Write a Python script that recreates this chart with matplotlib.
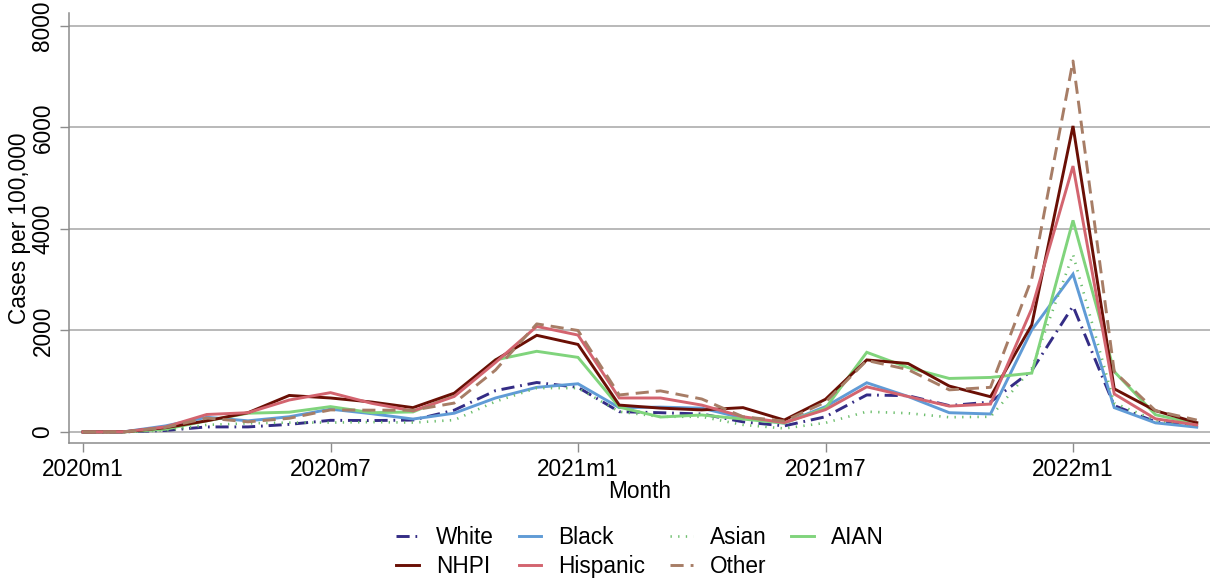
import matplotlib
matplotlib.use("Agg")
import matplotlib.pyplot as plt

plt.rcParams['font.family'] = ['Liberation Sans', 'DejaVu Sans']

months = [f"{y}m{m}" for y in (2020, 2021, 2022) for m in range(1, 13)][:28]
tick_labels = ["2020m1", "2020m7", "2021m1", "2021m7", "2022m1"]

white    = [0, 2, 30, 100, 100, 150, 230, 225, 235, 430, 815, 975, 880, 400, 380, 355, 200, 120, 300, 730, 715, 520, 590, 1210, 2480, 520, 200, 130]
black    = [0, 5, 120, 290, 220, 300, 450, 360, 255, 370, 670, 880, 950, 480, 490, 470, 275, 175, 500, 970, 700, 380, 355, 2010, 3110, 480, 180, 95]
asian    = [0, 2, 30, 140, 170, 185, 185, 195, 185, 235, 600, 865, 865, 400, 300, 300, 140, 70, 180, 400, 370, 290, 300, 1250, 3500, 570, 230, 130]
aian     = [0, 2, 55, 220, 370, 390, 500, 380, 395, 730, 1420, 1590, 1470, 490, 295, 335, 255, 175, 470, 1570, 1270, 1055, 1075, 1160, 4170, 1190, 340, 160]
nhpi     = [0, 3, 85, 220, 380, 720, 670, 590, 480, 765, 1420, 1905, 1725, 530, 470, 435, 480, 235, 645, 1420, 1350, 905, 695, 2110, 6030, 850, 420, 185]
hispanic = [0, 5, 100, 345, 380, 630, 775, 565, 415, 700, 1370, 2080, 1910, 670, 670, 530, 300, 185, 440, 890, 700, 510, 550, 2430, 5240, 750, 260, 140]
other    = [0, 3, 90, 275, 200, 270, 435, 430, 430, 570, 1220, 2130, 2000, 730, 810, 650, 300, 215, 590, 1410, 1230, 830, 880, 3020, 7310, 1190, 420, 235]

series = [
    ("White", white, "#342C85", (0, (4.5, 2.0, 0.6, 2.0)), 2.1),
    ("Black", black, "#609BD6", "-", 2.1),
    ("Asian", asian, "#6DBE6D", (0, (0.5, 2.4)), 1.9),
    ("AIAN", aian, "#80D47C", "-", 2.1),
    ("NHPI", nhpi, "#6A0F05", "-", 2.1),
    ("Hispanic", hispanic, "#D3646F", "-", 2.1),
    ("Other", other, "#A77D66", (0, (4.5, 2.4)), 2.1),
]

FS = 16.3

fig = plt.figure(figsize=(12.1, 5.82), dpi=100)
ax = fig.add_axes([69/1210, 1-443/582, (1210-69)/1210, (443-13)/582])

x = list(range(len(months)))
handles = {}
for name, vals, col, ls, lw in series:
    h, = ax.plot(x, vals, color=col, linestyle=ls, linewidth=lw, label=name,
                 dash_capstyle='butt', solid_joinstyle='miter')
    handles[name] = h

ax.set_xlim((69-83)/41.25, (1210-83)/41.25)
ax.set_ylim(-217, 8256)
ax.set_yticks([0, 2000, 4000, 6000, 8000])
ax.set_yticklabels(["0", "2000", "4000", "6000", "8000"], rotation=90, va='center')
ax.set_xticks([months.index(t) for t in tick_labels])
ax.set_xticklabels(tick_labels)
ax.grid(axis='y', color='#a6a6a6', linewidth=1.1)
ax.set_axisbelow(True)
for s in ['top', 'right']:
    ax.spines[s].set_visible(False)
for s in ['left', 'bottom']:
    ax.spines[s].set_color('#8c8c8c')
    ax.spines[s].set_linewidth(1.1)
ax.tick_params(axis='both', colors='#8c8c8c', labelcolor='black', labelsize=FS,
               length=6.5, width=1.0)
ax.tick_params(axis='y', pad=4)
ax.tick_params(axis='x', pad=4)

ax.set_xlabel("Month", fontsize=FS)
ax.xaxis.set_label_coords(0.5, (443-491)/430)
ax.xaxis.label.set_va('center')
ax.set_ylabel("Cases per 100,000", fontsize=FS)
ax.yaxis.set_label_coords((20-69)/1141, 0.5)
ax.yaxis.label.set_va('center')

order = ["White", "NHPI", "Black", "Hispanic", "Asian", "Other", "AIAN"]
fig.legend([handles[n] for n in order], order, loc='center',
           bbox_to_anchor=(640/1210, 1-552/582), ncol=4, frameon=False,
           fontsize=FS, handlelength=1.0, handletextpad=0.75,
           columnspacing=1.1, labelspacing=0.3)

fig.savefig("out.png", dpi=100)
